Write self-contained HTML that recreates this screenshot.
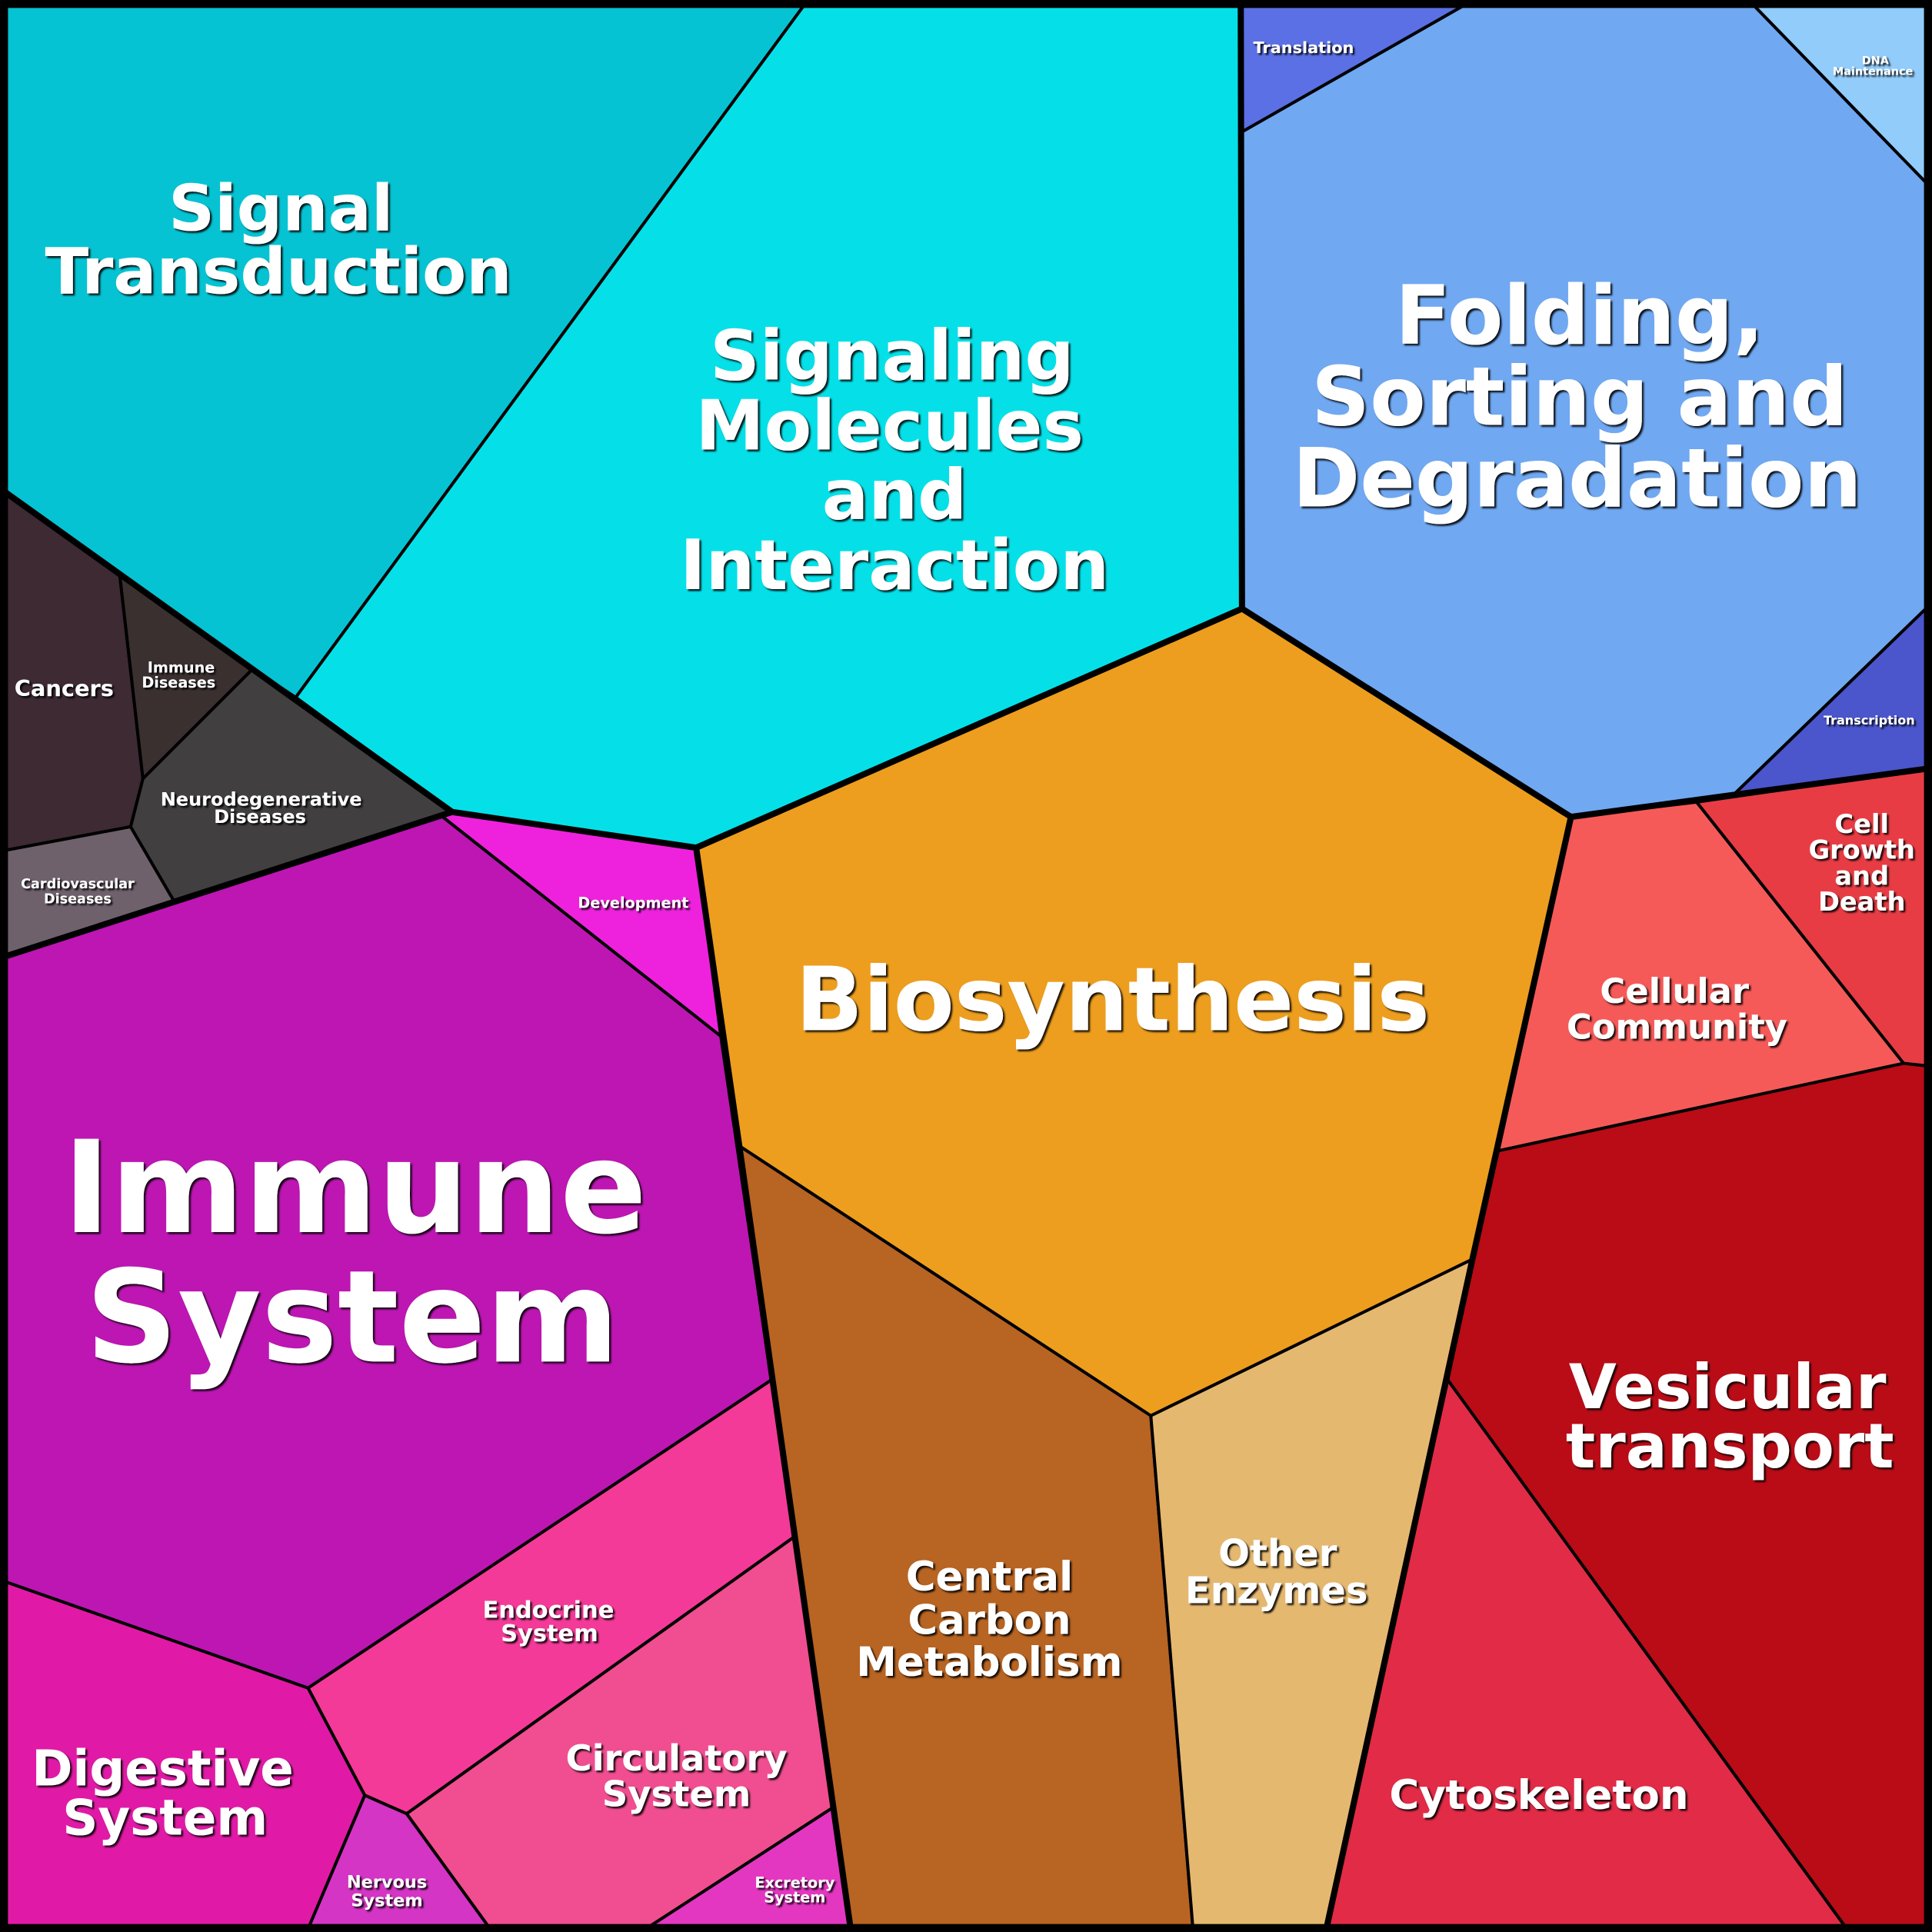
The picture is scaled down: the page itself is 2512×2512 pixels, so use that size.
<!DOCTYPE html>
<html><head><meta charset="utf-8"><style>
html,body{margin:0;padding:0;background:#000}
svg{display:block}
text{font-family:"DejaVu Sans","Liberation Sans",sans-serif;font-weight:bold;fill:#fff;text-anchor:middle;filter:url(#sh)}
</style></head><body>
<svg width="2512" height="2512" viewBox="0 0 1568 1568" xmlns="http://www.w3.org/2000/svg">
<defs><filter id="sh" x="-10%" y="-10%" width="130%" height="130%"><feDropShadow dx="1.5" dy="1.5" stdDeviation="0.6" flood-color="#000" flood-opacity="0.9"/></filter></defs>
<rect width="1568" height="1568" fill="#000"/>
<g stroke="#000" stroke-width="2.5" stroke-linejoin="round">
<polygon fill="#06c3d3" points="5,5 652,5 240,566 205,543 97,465 5,400"/>
<polygon fill="#05e0e8" points="652,5 1007,5 1008,494 565,688 367,659 240,566"/>
<polygon fill="#3d2a33" points="5,400 97,465 116,632 106,671 5,690"/>
<polygon fill="#3a3030" points="97,465 205,543 116,632"/>
<polygon fill="#413f3f" points="205,543 240,566 367,659 141,731 106,671 116,632"/>
<polygon fill="#6e616c" points="5,690 106,671 141,731 5,776"/>
<polygon fill="#ee22dd" points="358,662 367,659 565,688 585,841"/>
<polygon fill="#bd16b3" points="5,776 358,662 585,841 626,1120 250,1370 5,1284"/>
<polygon fill="#f33a98" points="250,1370 626,1120 645,1247 330,1472 296,1457"/>
<polygon fill="#f04e90" points="330,1472 645,1247 676,1467 528,1563 396,1563"/>
<polygon fill="#e437c1" points="528,1563 676,1467 690,1563"/>
<polygon fill="#d435c4" points="296,1457 330,1472 396,1563 251,1563"/>
<polygon fill="#e01aa6" points="5,1284 250,1370 296,1457 251,1563 5,1563"/>
<polygon fill="#ed9e1e" points="565,688 1008,494 1275,663 1195,1022 934,1149 600,930"/>
<polygon fill="#b86422" points="600,930 934,1149 968,1563 690,1563"/>
<polygon fill="#e5b870" points="934,1149 1195,1022 1175,1120 1077,1563 968,1563"/>
<polygon fill="#70a8f2" points="1008,107 1187,5 1424,5 1563,148 1563,494 1407,645 1275,663 1008,494"/>
<polygon fill="#5a70e4" points="1007,5 1187,5 1008,107"/>
<polygon fill="#91ccfb" points="1424,5 1563,5 1563,148"/>
<polygon fill="#4b55cc" points="1563,494 1563,624 1407,645"/>
<polygon fill="#f55a58" points="1275,663 1377,651 1545,863 1216,934"/>
<polygon fill="#e83c44" points="1377,651 1563,624 1563,865 1545,863"/>
<polygon fill="#b90c16" points="1216,934 1545,863 1563,865 1563,1563 1497,1563 1175,1120 1195,1022"/>
<polygon fill="#e22b46" points="1175,1120 1497,1563 1077,1563"/>
</g>
<g stroke="#000" stroke-width="5" fill="none" stroke-linejoin="round">
<polyline points="5,400 367,659"/>
<polyline points="5,776 367,659 565,688 1008,494 1275,663 1563,624"/>
<polyline points="1007,5 1008,494"/>
<polyline points="565,688 600,930 690,1563"/>
<polyline points="1275,663 1195,1022 1077,1563"/>
<rect x="3" y="3" width="1562" height="1562" stroke-width="7"/>
</g>
<text font-size="52"><tspan x="228" y="187">Signal</tspan><tspan x="226" y="238">Transduction</tspan></text>
<text font-size="56"><tspan x="724" y="308">Signaling</tspan><tspan x="722" y="365">Molecules</tspan><tspan x="726" y="421">and</tspan><tspan x="726" y="478">Interaction</tspan></text>
<text font-size="66"><tspan x="1282" y="279">Folding,</tspan><tspan x="1282" y="345">Sorting and</tspan><tspan x="1280" y="411">Degradation</tspan></text>
<text font-size="72" x="903" y="836">Biosynthesis</text>
<text font-size="104"><tspan x="288" y="1000">Immune</tspan><tspan x="286" y="1105">System</tspan></text>
<text font-size="50"><tspan x="1402" y="1143">Vesicular</tspan><tspan x="1404" y="1191">transport</tspan></text>
<text font-size="33" x="1249" y="1468">Cytoskeleton</text>
<text font-size="40"><tspan x="132" y="1449">Digestive</tspan><tspan x="134" y="1489">System</tspan></text>
<text font-size="33"><tspan x="803" y="1291">Central</tspan><tspan x="803" y="1326">Carbon</tspan><tspan x="803" y="1360">Metabolism</tspan></text>
<text font-size="30"><tspan x="1037" y="1271">Other</tspan><tspan x="1036" y="1301">Enzymes</tspan></text>
<text font-size="28"><tspan x="1359" y="814">Cellular</tspan><tspan x="1361" y="843">Community</tspan></text>
<text font-size="21"><tspan x="1511" y="676">Cell</tspan><tspan x="1511" y="697">Growth</tspan><tspan x="1511" y="718">and</tspan><tspan x="1511" y="739">Death</tspan></text>
<text font-size="29"><tspan x="549" y="1437">Circulatory</tspan><tspan x="549" y="1466">System</tspan></text>
<text font-size="19"><tspan x="445" y="1313">Endocrine</tspan><tspan x="446" y="1332">System</tspan></text>
<text font-size="14"><tspan x="314" y="1532">Nervous</tspan><tspan x="314" y="1547">System</tspan></text>
<text font-size="12"><tspan x="645" y="1532">Excretory</tspan><tspan x="645" y="1544">System</tspan></text>
<text font-size="12" x="514" y="737">Development</text>
<text font-size="18" x="52" y="565">Cancers</text>
<text font-size="12"><tspan x="147" y="546">Immune</tspan><tspan x="145" y="558">Diseases</tspan></text>
<text font-size="15"><tspan x="212" y="654">Neurodegenerative</tspan><tspan x="211" y="668">Diseases</tspan></text>
<text font-size="11"><tspan x="63" y="721">Cardiovascular</tspan><tspan x="63" y="733">Diseases</tspan></text>
<text font-size="13" x="1058" y="43">Translation</text>
<text font-size="9"><tspan x="1522" y="52">DNA</tspan><tspan x="1520" y="61">Maintenance</tspan></text>
<text font-size="10" x="1517" y="588">Transcription</text>
</svg>
</body></html>
